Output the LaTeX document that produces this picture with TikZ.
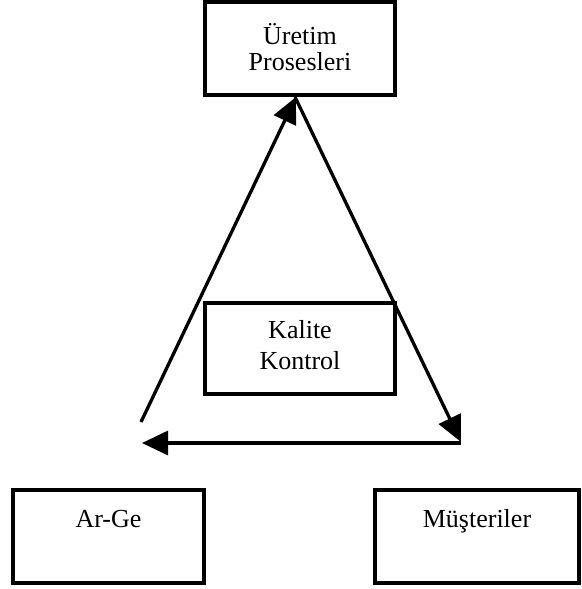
\documentclass[tikz,border=0pt]{standalone}
\usepackage{fontspec}
\setmainfont{Liberation Serif}
\usetikzlibrary{arrows.meta,calc}
\begin{document}
\begin{tikzpicture}[x=1pt,y=-1pt,
  box/.style={draw=black, line width=4pt, inner sep=0pt, outer sep=0pt},
  lbl/.style={anchor=base, inner sep=0pt, outer sep=0pt, font=\fontsize{26}{31}\selectfont},
  arr/.style={line width=3.3pt, -{Triangle[length=26pt,width=24pt]}}]
\useasboundingbox (0,0) rectangle (581,589);
\fill[white] (0,0) rectangle (581,589);
% boxes
\node[box, minimum width=190pt, minimum height=93.5pt] (uretim) at (300,48.25) {};
\node[box, minimum width=190pt, minimum height=91pt] (kalite) at (300,348.5) {};
\node[box, minimum width=191pt, minimum height=93pt] (arge) at (108.5,536.5) {};
\node[box, minimum width=204pt, minimum height=93pt] (must) at (477,536.5) {};
% labels
\node[lbl] (uretim1) at (300,44.5) {Üretim};
\node[lbl] (uretim2) at (300,70.5) {Prosesleri};
\node[lbl] (kalite1) at (300,338) {Kalite};
\node[lbl] (kalite2) at (300,369.5) {Kontrol};
\node[lbl] (arge1) at (108.5,527) {Ar-Ge};
\node[lbl] (must1) at (477,527) {Müşteriler};
% connector points
\coordinate (startA) at (141,422);
\coordinate (tipA) at ($(uretim.south)+(-4,2)$);
\coordinate (startB) at ($(uretim.south)+(-5,2)$);
\coordinate (tipB) at (461,442);
\coordinate (startC) at (461,443);
\coordinate (tipC) at (142,443);
% arrows
\draw[arr] (startA) -- (tipA);
\draw[arr] (startB) -- (tipB);
\draw[arr] (startC) -- (tipC);
\end{tikzpicture}
\end{document}
